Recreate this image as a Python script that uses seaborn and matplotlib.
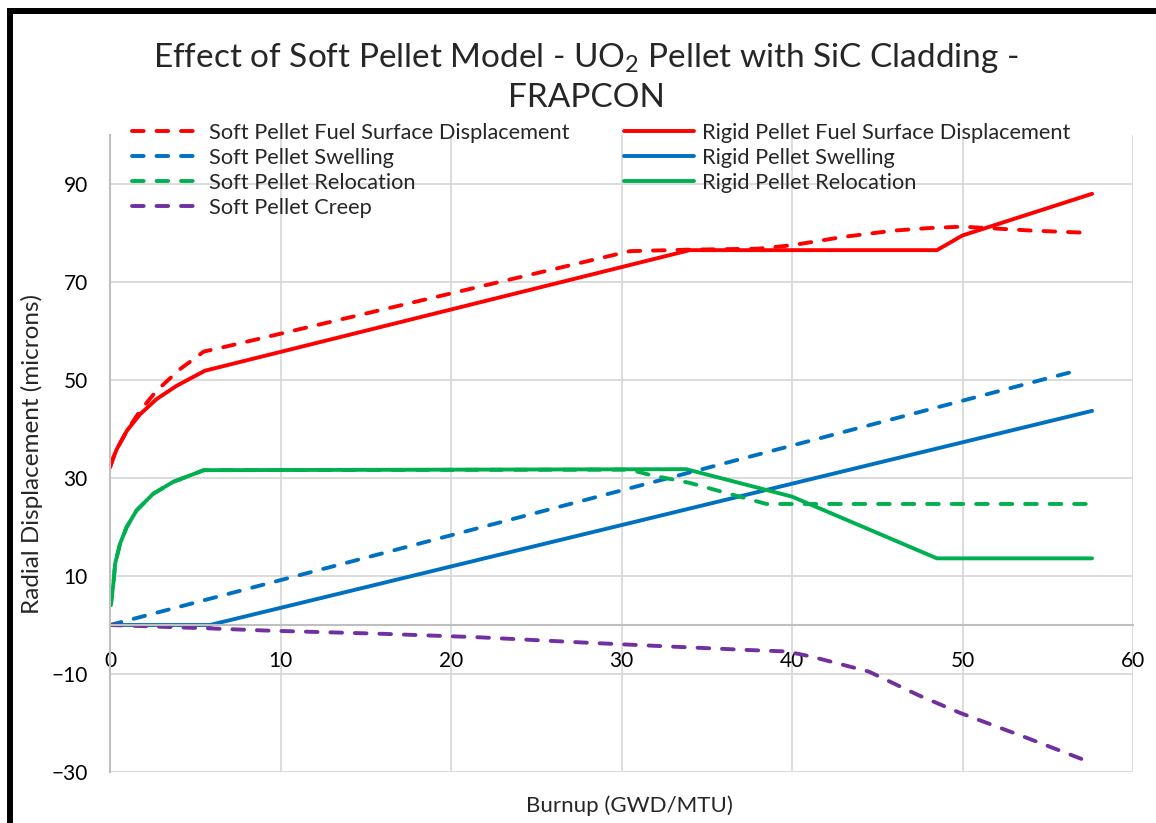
import matplotlib
matplotlib.use("Agg")
import matplotlib.pyplot as plt
import matplotlib.patches as patches
import pandas as pd
import seaborn as sns

# --- data (burnup in GWD/MTU, displacement in microns)
soft_fsd_x = [0, 0.2, 0.4, 1.0, 1.76, 2.73, 4.1, 5.5, 6.9, 30.5, 34, 38, 40, 43, 46, 48, 50, 54, 57.6]
soft_fsd_y = [32.2, 34.2, 35.9, 39.7, 43.7, 47.8, 52.2, 55.8, 56.9, 76.3, 76.6, 76.8, 77.5, 79.2, 80.5, 81, 81.3, 80.5, 80]

rigid_fsd_x = [0, 0.2, 0.4, 1.0, 1.76, 2.73, 3.9, 5.57, 34, 48.5, 50, 57.6]
rigid_fsd_y = [32.2, 34.2, 35.9, 39.7, 43, 46.1, 48.8, 51.9, 76.5, 76.5, 79.5, 88]

soft_swell_x = [0, 56.8]
soft_swell_y = [0, 52]

rigid_swell_x = [0, 5.86, 57.6]
rigid_swell_y = [0, 0, 43.7]

soft_reloc_x = [0.05, 0.2, 0.3, 0.59, 0.98, 1.56, 2.54, 3.7, 5.5, 30.5, 31.7, 34, 36.2, 38.5, 57.6]
soft_reloc_y = [4.1, 8.5, 12.5, 16.6, 20, 23.4, 26.8, 29.2, 31.6, 31.7, 30.6, 29, 26.9, 24.7, 24.7]

rigid_reloc_x = [0.05, 0.2, 0.3, 0.59, 0.98, 1.56, 2.54, 3.7, 5.5, 33.8, 40, 48.5, 57.6]
rigid_reloc_y = [4.1, 8.5, 12.5, 16.6, 20, 23.4, 26.8, 29.2, 31.6, 31.8, 26.2, 13.6, 13.6]

soft_creep_x = [0, 5.9, 9.3, 16, 21.6, 27.9, 32.9, 37.4, 39.7, 41.2, 44.5, 47.4, 49.9, 53.6, 57.4]
soft_creep_y = [0, -0.7, -1.15, -1.8, -2.5, -3.6, -4.4, -5.1, -5.4, -6.5, -9.5, -14.3, -18, -22.8, -27.9]

x_ticks = [0, 10, 20, 30, 40, 50, 60]
y_ticks = [-30, -10, 10, 30, 50, 70, 90]

RED, BLUE, GREEN, PURPLE = "#FF0000", "#0070C0", "#00B050", "#7030A0"

# label, x, y, colour, dashed
series = [
    ("Soft Pellet Fuel Surface Displacement", soft_fsd_x, soft_fsd_y, RED, True),
    ("Soft Pellet Swelling", soft_swell_x, soft_swell_y, BLUE, True),
    ("Soft Pellet Relocation", soft_reloc_x, soft_reloc_y, GREEN, True),
    ("Soft Pellet Creep", soft_creep_x, soft_creep_y, PURPLE, True),
    ("Rigid Pellet Fuel Surface Displacement", rigid_fsd_x, rigid_fsd_y, RED, False),
    ("Rigid Pellet Swelling", rigid_swell_x, rigid_swell_y, BLUE, False),
    ("Rigid Pellet Relocation", rigid_reloc_x, rigid_reloc_y, GREEN, False),
]

sns.set_style("white")
plt.rcParams["font.family"] = ["Lato", "DejaVu Sans"]
plt.rcParams["mathtext.default"] = "regular"

fig = plt.figure(figsize=(11.56, 8.23), dpi=100)
ax = fig.add_axes([110 / 1156, 1 - 772 / 823, (1133 - 110) / 1156, (772 - 135) / 823])

# draw solid ones first so the dashed sit on top like in the source
order = [4, 5, 6, 0, 1, 2, 3]
handles = {}
for i in order:
    label, xs, ys, col, dashed = series[i]
    df = pd.DataFrame({"burnup": xs, "disp": ys})
    sns.lineplot(data=df, x="burnup", y="disp", ax=ax, color=col, lw=2.8,
                 sort=False, estimator=None, label=label, legend=False)
    line = ax.lines[-1]
    line.set_solid_capstyle("round")
    line.set_solid_joinstyle("round")
    if dashed:
        line.set_dashes((3.0, 3.3))
        line.set_dash_capstyle("round")
    handles[i] = line

ax.set_xlim(0, 60)
ax.set_ylim(-30, 100)
ax.set_xticks(x_ticks)
ax.set_yticks(y_ticks)
ax.grid(True, color="#D9D9D9", lw=1.3)
ax.set_axisbelow(True)
for s in ["top", "right"]:
    ax.spines[s].set_visible(False)
ax.spines["bottom"].set_position(("data", 0))
ax.spines["bottom"].set_color("#BFBFBF")
ax.spines["bottom"].set_linewidth(1.5)
ax.spines["left"].set_color("#BFBFBF")
ax.spines["left"].set_linewidth(1.5)
ax.tick_params(axis="both", length=0, labelsize=15, colors="black")
ax.tick_params(axis="x", pad=19)
ax.tick_params(axis="y", pad=16)
ax.set_xlabel("")
ax.set_ylabel("")

fig.text(32 / 1156, 1 - 454 / 823, "Radial Displacement (microns)", rotation=90,
         ha="center", va="center", fontsize=17.5)
fig.text(629 / 1156, 1 - 806 / 823, "Burnup (GWD/MTU)", ha="center", va="center",
         fontsize=16)
fig.text(586 / 1156, 1 - 77 / 823,
         "Effect of Soft Pellet Model - UO$_2$ Pellet with SiC Cladding -\nFRAPCON",
         ha="center", va="center", fontsize=24, linespacing=1.35)

leg = ax.legend([handles[i] for i in range(7)], [s[0] for s in series], ncol=2,
                loc="upper left", bbox_to_anchor=(132 / 1156, 1 - 123 / 823),
                bbox_transform=fig.transFigure, frameon=False, fontsize=15.7,
                handlelength=3.2, handletextpad=0.35, labelspacing=0.23,
                columnspacing=2.5, borderaxespad=0, borderpad=0)

# thick black frame around the figure (cut off at right/bottom)
fig.patches.append(patches.Rectangle((10 / 1156, -0.2), 1.5, 1.2 - 10.5 / 823,
                                     transform=fig.transFigure, fill=False,
                                     edgecolor="black", lw=4.3))

fig.savefig("out.png", dpi=100)
